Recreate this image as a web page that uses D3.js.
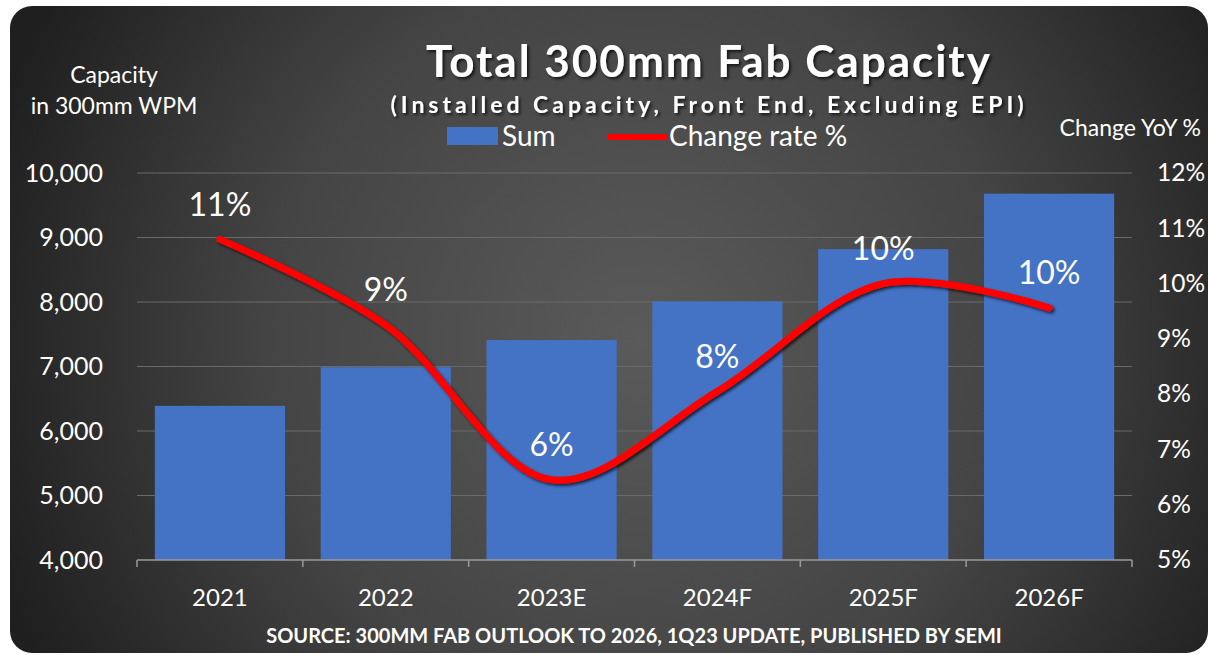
<!DOCTYPE html>
<html>
<head>
<meta charset="utf-8">
<script src="https://cdn.jsdelivr.net/npm/d3@7"></script>
<style>
  body { margin: 0; background: #fff; }
  text { font-family: Lato, "Open Sans", sans-serif; fill: #fff; }
</style>
</head>
<body>
<svg id="chart" width="1210" height="655"></svg>
<script>
// data
let years = ['2021', '2022', '2023E', '2024F', '2025F', '2026F'];
let capacity = [6390, 6990, 7410, 8010, 8820, 9680];   // 300mm WPM (thousands)
let changeRate = [10.8, 9.25, 6.45, 8.05, 10.0, 9.56];  // YoY %
let changeLabels = ['11%', '9%', '6%', '8%', '10%', '10%'];
let leftTicks = [4000, 5000, 6000, 7000, 8000, 9000, 10000];
let rightTicks = [5, 6, 7, 8, 9, 10, 11, 12];

let svg = d3.select('#chart');
let defs = svg.append('defs');

let grad = defs.append('radialGradient')
  .attr('id', 'bg')
  .attr('gradientUnits', 'userSpaceOnUse')
  .attr('cx', 640).attr('cy', 340).attr('r', 680);
grad.append('stop').attr('offset', '0%').attr('stop-color', '#5a5a5a');
grad.append('stop').attr('offset', '55%').attr('stop-color', '#444');
grad.append('stop').attr('offset', '100%').attr('stop-color', '#1f1f1f');

let shadow = defs.append('filter').attr('id', 'shadow')
  .attr('x', '-10%').attr('y', '-20%').attr('width', '120%').attr('height', '150%');
shadow.append('feDropShadow')
  .attr('dx', 2).attr('dy', 2).attr('stdDeviation', 1.5)
  .attr('flood-color', '#000').attr('flood-opacity', 0.7);

// panel
svg.append('rect')
  .attr('x', 10).attr('y', 6)
  .attr('width', 1198).attr('height', 647)
  .attr('rx', 22)
  .attr('fill', 'url(#bg)');

let margin = {top: 173, right: 78, bottom: 95, left: 137};
let width = 1210 - margin.left - margin.right,
    height = 655 - margin.top - margin.bottom;

let g = svg.append('g')
  .attr('transform', 'translate(' + margin.left + ',' + margin.top + ')');

let x = d3.scaleBand().domain(years).range([0, width]).paddingInner(0.215).paddingOuter(0.1075);
let y = d3.scaleLinear().domain([4000, 10000]).range([height, 0]);
let y2 = d3.scaleLinear().domain([5, 12]).range([height, 0]);

// gridlines
g.selectAll('.grid')
  .data(leftTicks.slice(1))
  .enter().append('line')
  .attr('x1', 0).attr('x2', width)
  .attr('y1', d => y(d)).attr('y2', d => y(d))
  .attr('stroke', '#6a6a6a').attr('stroke-width', 1.2);

// bars
g.selectAll('.bar')
  .data(capacity)
  .enter().append('rect')
  .attr('x', (d, i) => x(years[i]))
  .attr('y', d => y(d))
  .attr('width', x.bandwidth())
  .attr('height', d => height - y(d))
  .attr('fill', '#4472c4');

// bottom axis
let xAxis = d3.axisBottom(x).tickSize(0).tickPadding(29);
let xa = g.append('g').attr('transform', 'translate(0,' + height + ')').call(xAxis);
xa.select('.domain').remove();
xa.selectAll('text').style('font-size', '24px').attr('fill', '#fff');
g.append('line')
  .attr('x1', 0).attr('x2', width).attr('y1', height).attr('y2', height)
  .attr('stroke', '#9a9a9a').attr('stroke-width', 1.5);
let step = x.step();
g.selectAll('.xtick')
  .data(d3.range(years.length + 1))
  .enter().append('line')
  .attr('x1', d => x(years[0]) - step * x.paddingInner() / 2 + d * step)
  .attr('x2', d => x(years[0]) - step * x.paddingInner() / 2 + d * step)
  .attr('y1', height).attr('y2', height + 7)
  .attr('stroke', '#9a9a9a').attr('stroke-width', 1.5);

// left axis
let yAxis = d3.axisLeft(y).tickValues(leftTicks).tickSize(0).tickPadding(34).tickFormat(d3.format(','));
let ya = g.append('g').call(yAxis);
ya.select('.domain').remove();
ya.selectAll('text').style('font-size', '25px').attr('fill', '#fff');

// right axis
let y2Axis = d3.axisRight(y2).tickValues(rightTicks).tickSize(0).tickPadding(25).tickFormat(d => d + '%');
let y2a = g.append('g').attr('transform', 'translate(' + width + ',0)').call(y2Axis);
y2a.select('.domain').remove();
y2a.selectAll('text').style('font-size', '24.5px').attr('fill', '#fff');

// change rate line
let line = d3.line()
  .x((d, i) => x(years[i]) + x.bandwidth() / 2)
  .y(d => y2(d))
  .curve(d3.curveCatmullRom.alpha(0.5));

g.append('path')
  .datum(changeRate)
  .attr('d', line)
  .attr('fill', 'none')
  .attr('stroke', '#ff0000')
  .attr('stroke-width', 7)
  .attr('stroke-linecap', 'round')
  .attr('filter', 'url(#shadow)');

g.selectAll('.lbl')
  .data(changeRate)
  .enter().append('text')
  .attr('x', (d, i) => x(years[i]) + x.bandwidth() / 2)
  .attr('y', d => y2(d) - 35)
  .attr('dy', '0.35em')
  .attr('text-anchor', 'middle')
  .style('font-size', '32px')
  .text((d, i) => changeLabels[i]);

// titles
svg.append('text')
  .attr('x', 709).attr('y', 77)
  .attr('text-anchor', 'middle')
  .attr('filter', 'url(#shadow)')
  .style('font-size', '44px').style('font-weight', 'bold').style('letter-spacing', '2px')
  .text('Total 300mm Fab Capacity');

svg.append('text')
  .attr('x', 709).attr('y', 113)
  .attr('text-anchor', 'middle')
  .attr('filter', 'url(#shadow)')
  .style('font-size', '23px').style('font-weight', 'bold').style('letter-spacing', '4px')
  .text('(Installed Capacity, Front End, Excluding EPI)');

// legend
svg.append('rect').attr('x', 447).attr('y', 127).attr('width', 51).attr('height', 18).attr('fill', '#4472c4');
svg.append('text').attr('x', 502).attr('y', 146).style('font-size', '28px').text('Sum');
svg.append('line').attr('x1', 608).attr('x2', 668).attr('y1', 137).attr('y2', 137)
  .attr('stroke', '#ff0000').attr('stroke-width', 6);
svg.append('text').attr('x', 669).attr('y', 146).style('font-size', '28px').text('Change rate %');

// axis titles
svg.append('text').attr('x', 114).attr('y', 83).attr('text-anchor', 'middle')
  .style('font-size', '23px').text('Capacity');
svg.append('text').attr('x', 114).attr('y', 114).attr('text-anchor', 'middle')
  .style('font-size', '23px').text('in 300mm WPM');
svg.append('text').attr('x', 1201).attr('y', 136).attr('text-anchor', 'end')
  .style('font-size', '23px').text('Change YoY %');

// source
svg.append('text')
  .attr('x', 634).attr('y', 643)
  .attr('text-anchor', 'middle')
  .style('font-size', '20px').style('font-weight', 'bold')
  .text('SOURCE: 300MM FAB OUTLOOK TO 2026, 1Q23 UPDATE, PUBLISHED BY SEMI');
</script>
</body>
</html>
